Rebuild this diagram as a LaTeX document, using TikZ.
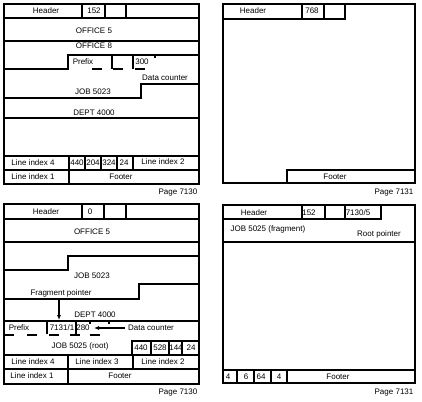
\documentclass[tikz,border=0pt]{standalone}
\usepackage{fontspec}
\setmainfont{Liberation Sans}
\usetikzlibrary{arrows.meta}
\begin{document}
\begin{tikzpicture}[x=1pt,y=-1pt,line width=1.1pt,
    ptr/.style={-{Latex[length=5pt,width=4pt]}}]

  \useasboundingbox (0,0) rectangle (422,401);

  % page 7130, first state
  \draw (4,4) rectangle (199,184);
  \draw (4,4) rectangle (82,18) (82,4) rectangle (105,18) (105,4) rectangle (126,18);
  \draw (4,18) -- (199,18) (4,41) -- (199,41);
  \draw (4,69) -- (68,69) -- (68,55) -- (199,55);
  \draw (112,55) -- (112,69) (133,55) -- (133,69) (155,55) -- ++(0,3);
  \foreach \x in {92,113,135}
    \draw (\x,69) -- ++(10,0);
  \draw (4,98) -- (141,98) -- (141,84) -- (199,84);
  \draw (4,118) -- (199,118) (4,156) -- (199,156) (4,170) -- (199,170);
  \draw (69,156) -- (69,184);
  \foreach \x in {85,101,117,133}
    \draw (\x,156) -- (\x,170);

  % page 7131, first state
  \draw (223,4) rectangle (415,183);
  \draw (223,4) rectangle (302,19) (302,4) rectangle (324,19) (324,4) rectangle (345,19);
  \draw (287,170) rectangle (415,183);

  % page 7130, second state
  \draw (4,204) rectangle (199,384);
  \draw (4,204) rectangle (82,219) (82,204) rectangle (104,219) (104,204) rectangle (126,219);
  \draw (4,219) -- (199,219) (4,242) -- (199,242);
  \draw (4,270) -- (68,270) -- (68,256) -- (199,256);
  \draw (4,299) -- (139,299) -- (139,284) -- (199,284);
  \draw (4,321) -- (199,321);
  \draw (47,321) -- (47,334) (76,321) -- (76,334) (90,321) -- ++(0,3) (109,321) -- ++(0,3);
  \foreach \x in {4,27,49,70,90}
    \draw (\x,335) -- ++(10,0);
  \draw (132,341) rectangle (199,355);
  \foreach \x in {151,169,182}
    \draw (\x,341) -- (\x,355);
  \draw (4,355) -- (199,355) (4,369) -- (199,369);
  \draw (68,355) -- (68,384) (133,355) -- (133,369);

  % page 7131, second state
  \draw (223,205) rectangle (415,383);
  \draw (223,205) rectangle (302,219) (302,205) rectangle (325,219)
        (325,205) rectangle (345,219) (345,205) rectangle (381,219);
  \draw (223,242) -- (415,242) (223,370) -- (415,370);
  \foreach \x in {237,254,271,287}
    \draw (\x,370) -- (\x,383);

  \begin{scope}[every node/.style={font=\fontsize{8}{9}\selectfont,inner sep=1pt}]
    % texts, page 7130 first state
    \node (h1)   at (46,11)   {Header};
    \node (n152) at (94,11)   {152};
    \node (of5)  at (94,31)   {OFFICE 5};
    \node (of8)  at (94,46)   {OFFICE 8};
    \node (pf1)  at (83,62)   {Prefix};
    \node (n300) at (142,62)  {300};
    \node (dc1)  at (165,78)  {Data counter};
    \node (jb1)  at (93,92)   {JOB 5023};
    \node (dp1)  at (94,113)  {DEPT 4000};
    \node (li4)  at (33,163)  {Line index 4};
    \node (n440) at (77,163)  {440};
    \node (n204) at (93,163)  {204};
    \node (n324) at (109,163) {324};
    \node (n24)  at (124,163) {24};
    \node (li2)  at (163,162) {Line index 2};
    \node (li1)  at (33,177)  {Line index 1};
    \node (ft1)  at (121,177) {Footer};
    \node (pg1)  at (178,193) {Page 7130};

    % texts, page 7131 first state
    \node (h2)   at (253,11)  {Header};
    \node (n768) at (312,11)  {768};
    \node (ft2)  at (335,177) {Footer};
    \node (pg2)  at (394,193) {Page 7131};

    % texts, page 7130 second state
    \node (h3)   at (46,212)  {Header};
    \node (n0)   at (90,212)  {0};
    \node (of5b) at (92,232)  {OFFICE 5};
    \node (jb2)  at (92,276)  {JOB 5023};
    \node (fpt)  at (61,293)  {Fragment pointer};
    \node (dp2)  at (95,315)  {DEPT 4000};
    \node (pf2)  at (19,328)  {Prefix};
    \node (n7131) at (62,328) {7131/1};
    \node (n280) at (83,328)  {280};
    \node (dc2)  at (151,328) {Data counter};
    \node (rt)   at (80,346)  {JOB 5025 (root)};
    \node (m440) at (141,348) {440};
    \node (m528) at (160,348) {528};
    \node (m144) at (176,348) {144};
    \node (m24)  at (191,348) {24};
    \node (li4b) at (33,362)  {Line index 4};
    \node (li3)  at (97,362)  {Line index 3};
    \node (li2b) at (163,362) {Line index 2};
    \node (li1b) at (32,376)  {Line index 1};
    \node (ft3)  at (120,376) {Footer};
    \node (pg3)  at (178,393) {Page 7130};

    % texts, page 7131 second state
    \node (h4)   at (254,213) {Header};
    \node (n152b) at (309,213) {152};
    \node (n7130) at (358,213) {7130/5};
    \node[anchor=west] (frg) at (229,229) {JOB 5025 (fragment)};
    \node (rp)   at (379,234) {Root pointer};
    \node (k4)   at (228,377) {4};
    \node (k6)   at (246,377) {6};
    \node (k64)  at (261,377) {64};
    \node (k4b)  at (279,377) {4};
    \node (ft4)  at (338,377) {Footer};
    \node (pg4)  at (394,393) {Page 7131};
  \end{scope}

  % pointers
  \coordinate (fp1) at (59,299);
  \coordinate (fp2) at (59,320);
  \coordinate (dcp) at (94,328);
  \draw[ptr] (fp1) -- (fp2);
  \draw[ptr,shorten <=2pt] (dc2) -- (dcp);

\end{tikzpicture}
\end{document}
